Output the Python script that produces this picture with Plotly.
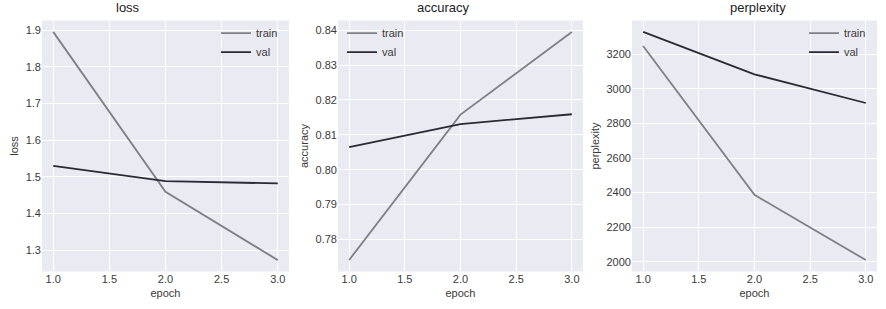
import plotly.graph_objects as go
from plotly.subplots import make_subplots

epochs = [1, 2, 3]
loss_train = [1.895, 1.459, 1.273]
loss_val = [1.530, 1.488, 1.482]
acc_train = [0.7741, 0.8158, 0.8395]
acc_val = [0.8065, 0.8131, 0.8159]
ppl_train = [3248, 2387, 2010]
ppl_val = [3329, 3084, 2918]

titles = ["loss", "accuracy", "perplexity"]
x_ticks = [1.0, 1.5, 2.0, 2.5, 3.0]
loss_ticks = [1.3, 1.4, 1.5, 1.6, 1.7, 1.8, 1.9]
acc_ticks = [0.78, 0.79, 0.80, 0.81, 0.82, 0.83, 0.84]
ppl_ticks = [2000, 2200, 2400, 2600, 2800, 3000, 3200]

TRAIN_C = "#7f7f88"
VAL_C = "#2a2a35"
FONT = "Liberation Sans, Arial, sans-serif"

fig = make_subplots(rows=1, cols=3, subplot_titles=titles)

series = [(loss_train, loss_val), (acc_train, acc_val), (ppl_train, ppl_val)]
legends = ["legend", "legend2", "legend3"]
for i, (tr, va) in enumerate(series):
    fig.add_trace(go.Scatter(x=epochs, y=tr, mode="lines", name="train",
                             line=dict(color=TRAIN_C, width=1.8), legend=legends[i]),
                  row=1, col=i + 1)
    fig.add_trace(go.Scatter(x=epochs, y=va, mode="lines", name="val",
                             line=dict(color=VAL_C, width=1.8), legend=legends[i]),
                  row=1, col=i + 1)

domains = [[0.0474, 0.3262], [0.3815, 0.658], [0.7133, 0.9898]]
YTOP, YBOT = 0.9337, 0.1214
yranges = [[1.242, 1.926], [0.7708, 0.8428], [1944, 3395]]
yticks = [loss_ticks, acc_ticks, ppl_ticks]
yfmts = [".1f", ".2f", "d"]

axis_common = dict(showgrid=True, gridcolor="white", gridwidth=1, zeroline=False,
                   showline=False, ticks="", tickfont=dict(size=11, color="#3a3a3a", family=FONT),
                   title_font=dict(size=11, color="#3a3a3a", family=FONT), automargin=False)

for i in range(3):
    fig.update_xaxes(domain=domains[i], range=[0.9, 3.1], tickvals=x_ticks, tickformat=".1f",
                     title_text="epoch", title_standoff=4, row=1, col=i + 1, **axis_common)
    fig.update_yaxes(domain=[YBOT, YTOP], range=yranges[i], tickvals=yticks[i],
                     tickformat=yfmts[i], title_text=titles[i], title_standoff=4,
                     row=1, col=i + 1, **axis_common)

for ann in fig.layout.annotations:
    ann.font = dict(size=13, color="#222222", family=FONT)
    ann.y = YTOP
    ann.yanchor = "bottom"
    ann.yshift = 3

leg_common = dict(bgcolor="rgba(0,0,0,0)", borderwidth=0, font=dict(size=11, color="#3a3a3a", family=FONT),
                  itemwidth=30, yanchor="top", tracegroupgap=0)
fig.update_layout(
    width=886, height=309,
    margin=dict(l=0, r=0, t=0, b=0),
    paper_bgcolor="white",
    plot_bgcolor="#EAEAF2",
    font=dict(family=FONT),
    legend=dict(x=0.3262 - 6 / 886, xanchor="right", y=0.94, **leg_common),
    legend2=dict(x=0.3815 + 4 / 886, xanchor="left", y=0.94, **leg_common),
    legend3=dict(x=0.9898 - 6 / 886, xanchor="right", y=0.94, **leg_common),
)

fig.write_html("out.html", config={"displayModeBar": False},
               post_script="document.body.style.margin='0';")
